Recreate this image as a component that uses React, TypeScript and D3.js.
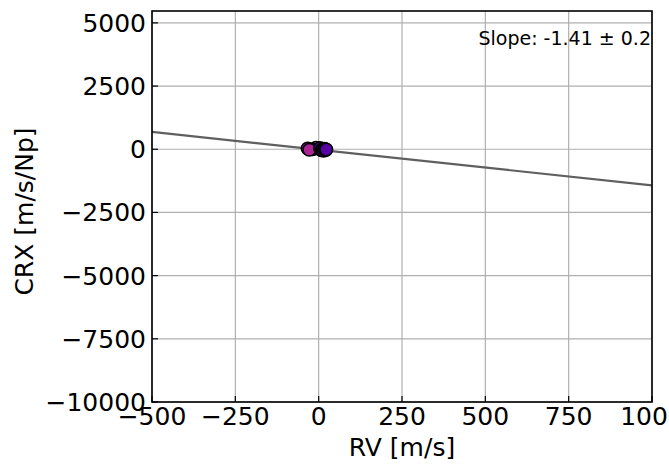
import React from "react";
import * as d3 from "d3";

const rvValues = [-8, -18, -33, -28, 4, 8, 12, 15, 18, 21, 23];
const crxValues = [60, 0, 30, -20, 50, -40, 10, -60, 20, -30, -10];
const colorValues = [0.9, 0.2, 0.34, 0.38, 0.12, 0.14, 0.1, 0.16, 0.13, 0.11, 0.15];
const xTicks = [-500, -250, 0, 250, 500, 750, 1000];
const yTicks = [-10000, -7500, -5000, -2500, 0, 2500, 5000];
const slope = -1.41;
const intercept = -20;
const slopeLabel = "Slope: -1.41 ± 0.2";

const W = 669;
const H = 465;
const M = { left: 152, right: 652, top: 11, bottom: 402 };

export default function App() {
  const x = d3.scaleLinear().domain([-500, 1000]).range([M.left, M.right]);
  const y = d3.scaleLinear().domain([-10000, 5470]).range([M.bottom, M.top]);
  const color = d3.scaleSequential(d3.interpolatePlasma).domain([0, 1]);
  const fit = d3
    .line<number>()
    .x((d) => x(d))
    .y((d) => y(slope * d + intercept));
  const font = "DejaVu Sans, sans-serif";
  return (
    <svg
      width={W}
      height={H}
      style={{ position: "absolute", left: 0, top: 0, background: "#fff" }}
      fontFamily={font}
    >
      <defs>
        <clipPath id="plot">
          <rect x={M.left} y={M.top} width={M.right - M.left} height={M.bottom - M.top} />
        </clipPath>
      </defs>
      {xTicks.map((t) => (
        <line key={"gx" + t} x1={x(t)} x2={x(t)} y1={M.top} y2={M.bottom} stroke="#b0b0b0" strokeWidth={1.2} />
      ))}
      {yTicks.map((t) => (
        <line key={"gy" + t} x1={M.left} x2={M.right} y1={y(t)} y2={y(t)} stroke="#b0b0b0" strokeWidth={1.2} />
      ))}
      <g clipPath="url(#plot)">
        <path d={fit([-500, 1000]) || ""} stroke="#5f5f5f" strokeWidth={2.2} fill="none" />
        {rvValues.map((v, i) => (
          <circle
            key={i}
            cx={x(v)}
            cy={y(crxValues[i])}
            r={6.3}
            fill={color(colorValues[i])}
            stroke="#000"
            strokeWidth={1.5}
          />
        ))}
      </g>
      <rect
        x={M.left}
        y={M.top}
        width={M.right - M.left}
        height={M.bottom - M.top}
        fill="none"
        stroke="#000"
        strokeWidth={1.6}
      />
      {xTicks.map((t) => (
        <g key={"tx" + t}>
          <line x1={x(t)} x2={x(t)} y1={M.bottom} y2={M.bottom - 6} stroke="#000" strokeWidth={1.2} />
          <text x={x(t)} y={425} fontSize={25} textAnchor="middle" fill="#000">
            {t < 0 ? "\u2212" + Math.abs(t) : String(t)}
          </text>
        </g>
      ))}
      {yTicks.map((t) => (
        <g key={"ty" + t}>
          <line x1={M.left} x2={M.left + 6} y1={y(t)} y2={y(t)} stroke="#000" strokeWidth={1.2} />
          <text x={146} y={y(t) + 9} fontSize={25} textAnchor="end" fill="#000">
            {t < 0 ? "\u2212" + Math.abs(t) : String(t)}
          </text>
        </g>
      ))}
      <text x={651} y={44.5} fontSize={19} textAnchor="end" fill="#000">
        {slopeLabel}
      </text>
      <text x={(M.left + M.right) / 2} y={456} fontSize={25} textAnchor="middle" fill="#000">
        RV [m/s]
      </text>
      <text
        transform={`translate(33, ${(M.top + M.bottom) / 2 + 5}) rotate(-90)`}
        fontSize={25}
        textAnchor="middle"
        fill="#000"
      >
        CRX [m/s/Np]
      </text>
    </svg>
  );
}
